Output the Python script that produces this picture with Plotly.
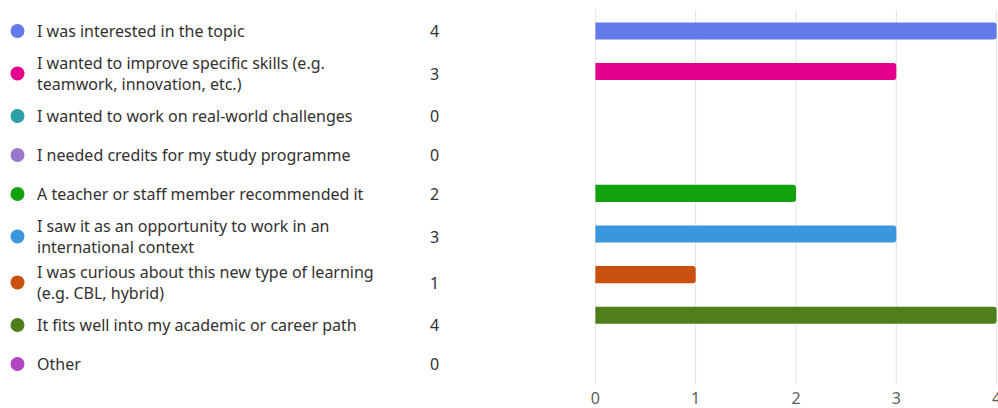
import plotly.graph_objects as go

# Survey: reasons for joining
reasons = [
    "I was interested in the topic",
    "I wanted to improve specific skills (e.g.<br>teamwork, innovation, etc.)",
    "I wanted to work on real-world challenges",
    "I needed credits for my study programme",
    "A teacher or staff member recommended it",
    "I saw it as an opportunity to work in an<br>international context",
    "I was curious about this new type of learning<br>(e.g. CBL, hybrid)",
    "It fits well into my academic or career path",
    "Other",
]
counts = [4, 3, 0, 0, 2, 3, 1, 4, 0]
colors = ["#6479EA", "#E3008C", "#2AA0A4", "#9A78C9", "#13A10E",
          "#3A96DD", "#CA5010", "#4F7F1B", "#B146C2"]
x_ticks = [0, 1, 2, 3, 4]

W, H = 998, 408
TOP, BOTTOM = 10, 23
FONT = "Noto Sans"
TEXT_COLOR = "#323130"
GRID = "#E1E1E1"

fig = go.Figure()

# bars
fig.add_trace(go.Bar(
    x=counts,
    y=list(range(len(counts))),
    orientation="h",
    marker=dict(color=colors, line=dict(width=0)),
    width=0.42,
    hoverinfo="skip",
    xaxis="x", yaxis="y",
))

# legend list on the left: row centres in screen pixels
line_counts = [r.count("<br>") + 1 for r in reasons]
row_h = {1: 39, 2: 46}
ys = []
y = 31
for i, n in enumerate(line_counts):
    if i > 0:
        y += (row_h[line_counts[i - 1]] + row_h[n]) / 2
    ys.append(y)

fig.add_trace(go.Scatter(
    x=[17.5] * len(reasons), y=ys, mode="markers",
    marker=dict(size=14, color=colors, line=dict(width=0)),
    hoverinfo="skip", xaxis="x2", yaxis="y2",
))

annotations = []
for r, c, yy in zip(reasons, counts, ys):
    annotations.append(dict(
        x=35, y=yy, xref="x2", yref="y2", text=r, showarrow=False,
        xanchor="left", yanchor="middle", align="left",
        font=dict(family=FONT, size=16, color=TEXT_COLOR),
    ))
    annotations.append(dict(
        x=434, y=yy, xref="x2", yref="y2", text=str(c), showarrow=False,
        xanchor="center", yanchor="middle",
        font=dict(family=FONT, size=16, color=TEXT_COLOR),
    ))

# vertical grid lines at every tick, drawn under the bars
shapes = [
    dict(type="line", xref="x", yref="y domain", x0=t, x1=t, y0=0, y1=1,
         line=dict(color=GRID, width=1), layer="below")
    for t in x_ticks
]

plot_w = W - 1
fig.update_layout(
    width=W, height=H,
    margin=dict(l=0, r=1, t=TOP, b=BOTTOM, pad=0, autoexpand=False),
    paper_bgcolor="white", plot_bgcolor="white",
    showlegend=False,
    barcornerradius=3,
    font=dict(family=FONT, size=16, color="#605E5C"),
    xaxis=dict(
        domain=[595 / plot_w, 1], range=[-0.004, 4.004],
        tickvals=x_ticks, ticktext=[str(t) for t in x_ticks],
        showgrid=False, zeroline=False,
        showline=False, ticks="", ticklabelstandoff=2,
        ticklabeloverflow="allow", automargin=False,
        tickfont=dict(family=FONT, size=16, color="#605E5C"),
        fixedrange=True,
    ),
    yaxis=dict(
        range=[8.719, -0.517], showgrid=False, zeroline=False,
        showticklabels=False, ticks="", showline=False, automargin=False,
    ),
    xaxis2=dict(domain=[0, 590 / plot_w], range=[0, 590], visible=False,
                anchor="y2"),
    yaxis2=dict(domain=[0, 1], range=[H - BOTTOM, TOP], visible=False,
                anchor="x2"),
    shapes=shapes,
    annotations=annotations,
)

fig.write_html("out.html")
